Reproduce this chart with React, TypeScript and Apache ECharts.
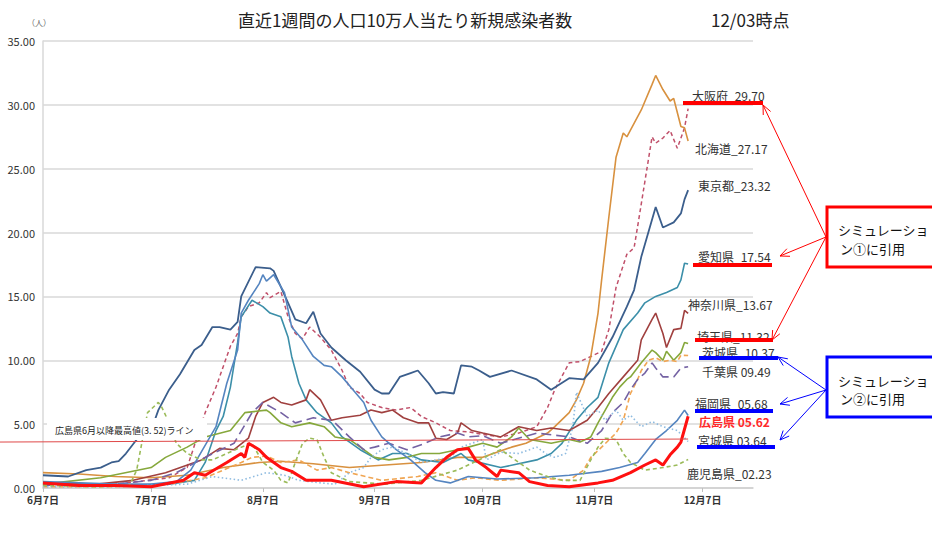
import React, { useEffect, useRef } from 'react';
import * as echarts from 'echarts';

// X axis: day index from 6月7日 (day 0); axis ends at day 197
const tickDays = [0, 30, 61, 92, 122, 153, 183];
const tickLabels = ['6月7日', '7月7日', '8月7日', '9月7日', '10月7日', '11月7日', '12月7日'];
const yTicks = [0, 5, 10, 15, 20, 25, 30, 35];

// [day, value]
const hokkaido = [[0,1.2],[10,1.1],[20,0.9],[30,0.8],[40,1.0],[50,1.6],[60,2.0],[66,2.1],[75,1.9],[85,1.6],[95,1.8],[105,2.0],[115,2.4],[122,2.4],[130,3.2],[134,3.5],[140,4.3],[142,4.8],[146,5.9],[148,6.9],[150,8.2],[152,10.3],[154,13.7],[155,16.3],[157,21.2],[159,25.9],[161,27.8],[162,27.5],[166,29.6],[169,31.6],[170,32.3],[172,31.2],[174,30.3],[175,30.5],[177,28.3],[178,28.2],[179,27.17]];
const osaka = [[0,0.3],[20,0.3],[35,0.8],[40,1.6],[45,5.9],[48,7.9],[50,9.5],[52,11.1],[54,12.1],[55,13.4],[57,14.2],[60,14.5],[62,15.3],[63,14.9],[66,15.4],[68,13.4],[70,12.1],[72,11.7],[74,12.6],[77,11.8],[80,10.8],[83,9.2],[85,7.9],[88,7.4],[90,6.7],[94,6.3],[98,6.1],[102,6.3],[105,5.6],[109,5.1],[113,4.5],[118,4.4],[122,4.2],[127,4.0],[132,4.3],[137,4.8],[140,6.3],[142,7.7],[146,9.8],[149,9.9],[152,10.3],[155,10.7],[157,12.4],[159,15.7],[162,18.3],[164,18.8],[165,20.5],[169,27.5],[170,27.0],[172,27.4],[174,28.0],[176,26.6],[178,28.2],[179,29.7]];
const tokyo = [[0,1.0],[7,0.9],[12,1.4],[16,1.6],[19,2.0],[21,2.1],[23,2.7],[26,3.8],[30,4.5],[32,6.1],[35,7.7],[38,8.9],[42,10.8],[44,11.2],[47,12.6],[49,12.6],[52,12.4],[54,13.0],[55,15.0],[59,17.3],[63,17.2],[64,17.0],[68,14.5],[70,13.2],[73,12.9],[75,13.8],[77,12.1],[80,11.0],[84,10.0],[88,9.1],[92,7.7],[94,7.4],[96,7.4],[99,8.7],[102,9.0],[104,9.2],[107,8.2],[109,7.4],[111,7.5],[114,7.4],[116,9.6],[119,9.5],[121,9.2],[124,8.7],[130,9.2],[137,8.5],[141,7.7],[146,8.6],[150,8.5],[154,9.8],[158,11.8],[162,14.2],[164,15.5],[166,18.1],[170,22.0],[172,20.4],[175,20.8],[177,21.5],[178,22.6],[179,23.32]];
const aichi = [[0,0.3],[20,0.2],[35,0.3],[42,0.6],[45,2.0],[48,4.5],[50,5.6],[52,7.9],[54,11.4],[55,13.4],[58,14.7],[61,14.2],[63,13.7],[66,13.4],[68,11.8],[69,10.3],[71,8.2],[73,6.9],[76,5.9],[80,5.1],[83,4.0],[88,3.0],[93,2.2],[97,2.7],[101,2.7],[105,2.2],[111,2.0],[116,2.7],[118,2.2],[127,1.6],[137,2.2],[141,2.7],[144,3.5],[148,5.3],[151,6.3],[154,7.1],[157,9.8],[161,12.4],[165,13.7],[167,14.5],[170,15.0],[173,15.3],[176,15.7],[177,16.3],[178,17.6],[179,17.54]];
const kanagawa = [[0,0.4],[15,0.3],[25,0.6],[34,1.2],[44,2.2],[49,3.1],[53,3.0],[57,3.9],[59,5.6],[61,6.7],[64,7.1],[66,6.7],[69,6.5],[73,6.9],[74,7.7],[77,6.9],[80,5.3],[83,5.5],[88,5.7],[91,6.1],[94,5.9],[97,6.1],[100,5.5],[104,5.1],[107,5.1],[109,3.9],[112,3.8],[115,4.3],[116,5.1],[119,4.5],[122,4.3],[127,4.0],[132,4.8],[137,4.5],[141,4.7],[146,4.5],[151,5.3],[154,6.3],[157,7.4],[161,8.7],[165,10.0],[166,11.6],[169,13.2],[170,13.7],[172,12.1],[173,11.0],[175,12.4],[177,12.5],[178,13.9],[179,13.67]];
const saitama = [[0,0.3],[16,0.8],[30,1.6],[34,2.4],[40,3.2],[45,4.0],[52,4.5],[56,5.9],[62,6.1],[63,5.9],[66,5.1],[69,4.8],[74,5.1],[78,4.8],[81,4.0],[85,3.8],[89,3.0],[92,2.4],[96,2.2],[101,2.4],[105,2.7],[110,2.7],[115,3.0],[118,3.2],[122,3.5],[126,3.2],[130,4.0],[132,4.7],[135,3.8],[141,3.5],[146,3.8],[149,3.6],[152,4.0],[154,5.1],[156,6.1],[158,7.1],[160,7.9],[162,8.5],[163,8.7],[166,9.8],[169,10.8],[170,10.6],[172,10.0],[173,10.7],[175,10.0],[177,10.6],[178,11.4],[179,11.32]];
const ibaraki = [[0,0.1],[20,0.1],[35,0.3],[45,0.8],[50,1.4],[55,2.0],[58,2.4],[62,2.5],[66,2.0],[71,2.2],[76,1.4],[80,1.6],[85,1.2],[94,0.6],[104,0.9],[109,1.2],[115,0.6],[120,0.8],[127,0.6],[137,0.8],[146,0.6],[150,1.4],[152,2.4],[155,3.2],[159,4.3],[161,5.3],[163,7.4],[165,8.5],[166,9.2],[168,10.0],[170,10.2],[172,9.9],[174,10.0],[176,9.9],[177,10.4],[179,10.37]];
const chiba = [[0,0.2],[20,0.3],[30,0.6],[37,1.2],[45,2.4],[53,3.5],[58,5.9],[61,6.7],[66,5.9],[70,5.1],[75,5.5],[80,5.3],[81,5.1],[85,4.0],[89,3.0],[92,3.2],[96,3.5],[101,3.0],[106,3.5],[110,4.0],[115,4.3],[118,4.0],[122,4.1],[127,3.5],[137,4.3],[146,4.0],[151,3.5],[155,4.5],[158,5.9],[161,6.7],[163,7.7],[165,8.5],[167,9.0],[169,9.8],[170,9.4],[172,8.7],[175,8.7],[177,9.4],[179,9.49]];
const fukuoka = [[0,0.5],[10,0.4],[20,0.3],[30,0.3],[37,0.5],[41,1.4],[48,4.8],[51,8.2],[54,10.8],[55,13.7],[57,14.7],[60,16.0],[61,16.7],[62,16.2],[64,16.7],[67,15.3],[69,12.6],[72,11.6],[75,10.3],[78,9.6],[80,9.5],[83,8.7],[86,7.7],[89,6.7],[91,5.3],[94,4.0],[98,3.0],[102,2.2],[106,1.2],[109,0.6],[113,0.4],[118,0.9],[126,0.7],[137,0.8],[146,1.0],[155,1.3],[160,1.6],[165,2.0],[167,2.7],[170,3.8],[173,4.5],[176,5.3],[178,6.1],[179,5.68]];
const miyagi = [[0,0.1],[20,0.1],[40,0.3],[47,0.9],[55,0.6],[62,1.2],[67,1.0],[71,0.6],[77,0.4],[81,0.3],[85,1.2],[89,1.6],[91,2.4],[94,3.0],[97,3.2],[101,2.7],[105,2.0],[109,2.2],[113,2.4],[116,3.2],[122,3.8],[123,2.2],[127,2.8],[132,2.7],[137,3.2],[140,2.6],[142,2.4],[145,2.7],[147,4.8],[148,7.5],[151,5.6],[154,6.1],[156,5.3],[159,6.1],[161,5.3],[163,5.7],[166,4.8],[169,5.2],[172,4.8],[176,4.5],[179,3.64]];
const kagoshima = [[0,0.2],[15,0.1],[24,0.2],[26,1.4],[29,5.9],[32,6.7],[33,6.3],[35,5.1],[37,3.5],[40,2.7],[44,2.2],[47,2.2],[51,2.7],[55,3.2],[58,3.5],[61,2.0],[64,1.4],[66,0.6],[68,0.4],[70,2.0],[72,3.5],[74,3.9],[76,3.8],[78,2.4],[80,1.2],[85,0.5],[95,0.3],[105,0.6],[115,1.4],[121,2.2],[127,3.0],[131,2.2],[135,1.4],[140,0.9],[144,0.6],[149,0.6],[152,2.2],[154,3.2],[156,3.9],[159,3.8],[161,2.7],[163,2.0],[167,1.4],[172,1.6],[176,1.8],[179,2.23]];
const hiroshima = [[0,0.4],[10,0.2],[20,0.2],[30,0.1],[39,0.6],[42,1.2],[45,1.0],[51,2.0],[55,2.7],[56,2.4],[57,3.5],[60,3.0],[62,2.4],[66,1.6],[69,1.3],[73,0.6],[80,0.6],[89,0.1],[98,0.5],[105,0.4],[109,1.6],[112,2.4],[115,3.0],[118,3.1],[120,2.2],[123,1.6],[126,0.9],[127,1.4],[132,1.2],[135,0.5],[140,0.2],[146,0.1],[154,0.4],[158,0.6],[163,1.2],[167,1.8],[170,2.2],[172,1.8],[174,2.6],[176,3.2],[177,3.6],[179,5.62]];
const hiroshimaMax = 3.52;

const labelNames = ['大阪府_29.70', '北海道_27.17', '東京都_23.32', '愛知県_17.54', '神奈川県_13.67', '埼玉県_11.32', '茨城県_10.37', '千葉県 09.49', '福岡県_05.68', '広島県 05.62', '宮城県 03.64', '鹿児島県_02.23'];

const FONT = '"Noto Sans CJK JP", "Noto Sans", sans-serif';

function arrow(x1: number, y1: number, x2: number, y2: number, color: string) {
  const ang = Math.atan2(y2 - y1, x2 - x1);
  const L = 10, a = 0.42;
  const p1 = [x2 - L * Math.cos(ang - a), y2 - L * Math.sin(ang - a)];
  const p2 = [x2 - L * Math.cos(ang + a), y2 - L * Math.sin(ang + a)];
  return [
    { type: 'line', z: 50, shape: { x1, y1, x2, y2 }, style: { stroke: color, lineWidth: 1 } },
    { type: 'polyline', z: 50, shape: { points: [p1, [x2, y2], p2] }, style: { stroke: color, lineWidth: 1, fill: null } },
  ];
}

export default function App() {
  const ref = useRef<HTMLDivElement>(null);
  useEffect(() => {
    if (!ref.current) return;
    const chart = echarts.init(ref.current, null, { renderer: 'svg' });
    const defs = [
      { name: '大阪府', data: osaka, color: '#C0506A', width: 1.5, type: [4, 3] },
      { name: '北海道', data: hokkaido, color: '#D8913F', width: 1.6, type: 'solid' },
      { name: '東京都', data: tokyo, color: '#3B5E8C', width: 1.8, type: 'solid' },
      { name: '愛知県', data: aichi, color: '#3C8FA9', width: 1.6, type: 'solid' },
      { name: '神奈川県', data: kanagawa, color: '#A0403F', width: 1.6, type: 'solid' },
      { name: '埼玉県', data: saitama, color: '#86A83C', width: 1.6, type: 'solid' },
      { name: '茨城県', data: ibaraki, color: '#F0A552', width: 1.6, type: [5, 3] },
      { name: '千葉県', data: chiba, color: '#7462A3', width: 1.6, type: [10, 5] },
      { name: '福岡県', data: fukuoka, color: '#5585C0', width: 1.6, type: 'solid' },
      { name: '宮城県', data: miyagi, color: '#8EBBE0', width: 1.6, type: [1.5, 2.5] },
      { name: '鹿児島県', data: kagoshima, color: '#9BBB59', width: 1.6, type: [4, 3] },
      { name: '広島県', data: hiroshima, color: '#FF1010', width: 3, type: 'solid' },
    ];
    const labelPos = [
      [692, 95], [695, 148], [698, 185], [698, 256], [688, 304], [697, 336],
      [702, 352], [702, 371], [695, 403], [699, 421], [698, 440], [687, 473],
    ];
    const labelGraphics = labelNames.map((t, i) => ({
      type: 'text', z: 40, x: labelPos[i][0], y: labelPos[i][1],
      style: {
        text: t, font: `${i === 9 ? 'bold ' : ''}12px ${FONT}`,
        fill: i === 9 ? '#FF2A2A' : '#333333', textVerticalAlign: 'middle',
      },
    }));
    const bars = [
      [683, 101, 80, '#FF0000'], [693, 263, 79, '#FF0000'], [695, 338, 78, '#FF0000'],
      [699, 356, 79, '#0000FF'], [695, 409, 78, '#0000FF'], [697, 445, 78, '#0000FF'],
    ].map(([x, y, w, c]) => ({ type: 'rect', z: 45, shape: { x, y, width: w, height: 4 }, style: { fill: c } }));
    const arrows = [
      ...arrow(826, 237, 763, 105, '#FF0000'),
      ...arrow(826, 237, 780, 256, '#FF0000'),
      ...arrow(826, 237, 772, 340, '#FF0000'),
      ...arrow(826, 390, 778, 357, '#0000FF'),
      ...arrow(826, 390, 780, 404, '#0000FF'),
      ...arrow(826, 390, 780, 440, '#0000FF'),
    ];
    const boxes = [
      { type: 'rect', z: 55, shape: { x: 827, y: 207, width: 120, height: 60 }, style: { fill: '#fff', stroke: '#FF0000', lineWidth: 3 } },
      { type: 'text', z: 56, x: 838, y: 229, style: { text: 'シミュレーショ', font: `13px ${FONT}`, fill: '#111', textVerticalAlign: 'middle' } },
      { type: 'text', z: 56, x: 840, y: 248, style: { text: 'ン①に引用', font: `13px ${FONT}`, fill: '#111', textVerticalAlign: 'middle' } },
      { type: 'rect', z: 55, shape: { x: 827, y: 357, width: 120, height: 60 }, style: { fill: '#fff', stroke: '#0000FF', lineWidth: 3 } },
      { type: 'text', z: 56, x: 838, y: 380, style: { text: 'シミュレーショ', font: `13px ${FONT}`, fill: '#111', textVerticalAlign: 'middle' } },
      { type: 'text', z: 56, x: 840, y: 398, style: { text: 'ン②に引用', font: `13px ${FONT}`, fill: '#111', textVerticalAlign: 'middle' } },
    ];
    const option: any = {
      animation: false,
      backgroundColor: '#ffffff',
      textStyle: { fontFamily: FONT },
      title: [
        { text: '直近1週間の人口10万人当たり新規感染者数', left: 233, top: 6, textStyle: { fontSize: 17, fontWeight: 'normal', color: '#222', fontFamily: FONT } },
        { text: '12/03時点', left: 706, top: 6, textStyle: { fontSize: 17, fontWeight: 'normal', color: '#222', fontFamily: FONT } },
      ],
      grid: { left: 43, right: 179, top: 41, bottom: 65, containLabel: false },
      xAxis: {
        type: 'value', min: 0, max: 197,
        axisLine: { show: true, lineStyle: { color: '#CFCFCF', width: 1.5 } },
        axisTick: { show: true, customValues: tickDays, length: 4, lineStyle: { color: '#BFBFBF' } },
        axisLabel: {
          customValues: tickDays, margin: 6, fontSize: 10, fontWeight: 'bold', color: '#333',
          formatter: (v: number) => tickLabels[tickDays.indexOf(Math.round(v))] ?? '',
        },
        splitLine: { show: false },
      },
      yAxis: {
        type: 'value', min: 0, max: 35, interval: 5,
        axisLine: { show: true, lineStyle: { color: '#D9D9D9', width: 1.5 } },
        axisTick: { show: false },
        axisLabel: { fontSize: 11, color: '#333', margin: 8, formatter: (v: number) => v.toFixed(2) },
        splitLine: { lineStyle: { color: '#D9D9D9', width: 1.5 } },
      },
      series: defs.map((d) => ({
        name: d.name, type: 'line', data: d.data, showSymbol: false, symbol: 'none', smooth: false,
        lineStyle: { color: d.color, width: d.width, type: d.type },
        z: d.name === '広島県' ? 5 : 2,
      })),
      graphic: [
        { type: 'text', x: 27, y: 22, style: { text: '（人）', font: `8px ${FONT}`, fill: '#666', textVerticalAlign: 'middle' } },
        ...labelGraphics, ...bars, ...arrows, ...boxes,
      ],
    };
    chart.setOption(option);
    const yLine = chart.convertToPixel({ yAxisIndex: 0 } as any, hiroshimaMax) as number;
    const xEnd = chart.convertToPixel({ xAxisIndex: 0 } as any, 179) as number;
    chart.setOption({
      graphic: [
        { type: 'text', x: 27, y: 22, style: { text: '（人）', font: `8px ${FONT}`, fill: '#666', textVerticalAlign: 'middle' } },
        ...labelGraphics, ...bars, ...arrows, ...boxes,
        { type: 'line', z: 30, shape: { x1: 0, y1: yLine - 1, x2: xEnd, y2: yLine - 4 }, style: { stroke: '#E04848', lineWidth: 1 } },
        { type: 'rect', z: 31, shape: { x: 47, y: 418, width: 160, height: 22 }, style: { fill: '#ffffff' } },
        { type: 'text', z: 32, x: 55, y: 430, style: { text: '広島県6月以降最高値(3. 52)ライン', font: `9px ${FONT}`, fill: '#222', textVerticalAlign: 'middle' } },
      ],
    });
    return () => chart.dispose();
  }, []);
  return <div ref={ref} style={{ position: 'fixed', left: 0, top: 0, width: 932, height: 553, background: '#fff' }} />;
}
